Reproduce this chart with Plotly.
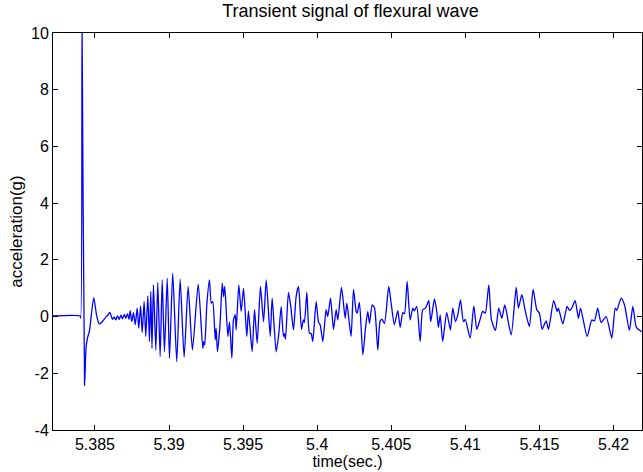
import plotly.graph_objects as go

time_s = [
    5.38217, 5.38399, 5.38404, 5.38413, 5.38430, 5.38440, 5.38450, 5.38463, 5.38492, 5.38511,
    5.38529, 5.38546, 5.38573, 5.38588, 5.38600, 5.38619, 5.38630, 5.38641, 5.38652, 5.38664,
    5.38675, 5.38686, 5.38698, 5.38708, 5.38720, 5.38730, 5.38738, 5.38749, 5.38760, 5.38772,
    5.38785, 5.38796, 5.38808, 5.38819, 5.38832, 5.38843, 5.38857, 5.38868, 5.38877, 5.38885,
    5.38895, 5.38911, 5.38924, 5.38940, 5.38954, 5.38969, 5.38988, 5.39003, 5.39025, 5.39052,
    5.39075, 5.39102, 5.39129, 5.39158, 5.39197, 5.39228, 5.39235, 5.39241, 5.39255, 5.39273,
    5.39285, 5.39295, 5.39312, 5.39318, 5.39327, 5.39344, 5.39359, 5.39368, 5.39376, 5.39397,
    5.39408, 5.39424, 5.39435, 5.39447, 5.39453, 5.39471, 5.39487, 5.39503, 5.39525, 5.39536,
    5.39561, 5.39577, 5.39595, 5.39617, 5.39638, 5.39656, 5.39683, 5.39696, 5.39723, 5.39741,
    5.39757, 5.39772, 5.39779, 5.39786, 5.39806, 5.39822, 5.39840, 5.39858, 5.39874, 5.39894,
    5.39907, 5.39914, 5.39930, 5.39948, 5.39959, 5.39970, 5.39993, 5.40009, 5.40020, 5.40038,
    5.40060, 5.40071, 5.40090, 5.40110, 5.40128, 5.40139, 5.40164, 5.40189, 5.40200, 5.40218,
    5.40229, 5.40245, 5.40263, 5.40270, 5.40285, 5.40308, 5.40326, 5.40341, 5.40353, 5.40371,
    5.40387, 5.40409, 5.40425, 5.40438, 5.40454, 5.40483, 5.40499, 5.40521, 5.40544, 5.40560,
    5.40578, 5.40589, 5.40607, 5.40627, 5.40645, 5.40656, 5.40672, 5.40695, 5.40712, 5.40731,
    5.40753, 5.40766, 5.40791, 5.40807, 5.40818, 5.40830, 5.40847, 5.40874, 5.40899, 5.40915,
    5.40933, 5.40949, 5.40967, 5.40987, 5.40999, 5.41032, 5.41057, 5.41077, 5.41100, 5.41117,
    5.41134, 5.41158, 5.41176, 5.41203, 5.41225, 5.41246, 5.41266, 5.41309, 5.41343, 5.41358,
    5.41381, 5.41405, 5.41432, 5.41457, 5.41482, 5.41500, 5.41518, 5.41545, 5.41561, 5.41596,
    5.41619, 5.41628, 5.41657, 5.41687, 5.41702, 5.41718, 5.41741, 5.41763, 5.41777, 5.41822,
    5.41853, 5.41871, 5.41893, 5.41916, 5.41950, 5.41988, 5.42011, 5.42022, 5.42051, 5.42074,
    5.42107, 5.42130, 5.42154, 5.42190,
]

acceleration_g = [
    0.02, 0.02, -0.05, 10.4, -2.43, -1.10, -0.75, -0.50, 0.67, 0.05,
    -0.26, -0.20, -0.02, 0.06, 0.15, -0.10, -0.01, -0.12, 0.02, -0.10,
    0.05, -0.08, 0.08, -0.06, 0.10, -0.10, 0.21, -0.18, 0.14, -0.29,
    0.30, -0.41, 0.38, -0.56, 0.53, -0.70, 0.73, -0.88, 0.89, -1.12,
    1.12, -1.18, 1.20, -1.41, 1.29, -1.24, 1.35, -1.47, 1.53, -1.59,
    1.32, -1.43, 1.06, -1.18, 1.14, -1.12, -0.88, -1.00, 0.41, 1.29,
    0.47, 0.53, -0.82, -0.41, -1.24, -0.30, 1.18, 0.70, 1.06, -0.70,
    -0.20, -1.47, -0.12, 0.06, -0.47, 1.12, 0.18, 1.00, -0.70, 0.20,
    -1.24, 0.24, -0.94, 1.06, -0.18, 1.29, -0.70, 0.65, -1.24, -0.59,
    0.35, -0.70, -0.60, -0.80, 0.85, 0.35, -0.47, 0.71, 1.06, -0.45,
    -0.12, -0.20, 0.85, -0.59, -0.60, -0.88, 0.53, -0.20, -0.29, -0.88,
    0.24, 0.00, 0.65, -0.45, 0.24, -0.12, 1.03, -0.06, 0.47, -0.29,
    -0.70, 0.96, 0.18, 0.12, 0.50, -1.35, -0.41, 0.18, -0.24, 0.41,
    0.30, -1.18, -0.15, -0.10, -0.24, 1.06, 0.47, -0.29, 0.21, -0.38,
    0.14, 0.10, 1.24, -0.12, 0.30, 0.20, 0.36, -0.88, 0.24, 0.30,
    0.56, -0.18, 0.62, 0.18, -0.38, 0.06, -0.88, 0.14, -0.47, 0.30,
    -0.18, 0.06, 0.59, -0.18, -0.10, -0.76, 0.38, -0.45, -0.09, 0.18,
    0.12, 1.12, -0.12, -0.49, 0.30, -0.06, 0.41, -0.65, 1.03, 0.30,
    0.77, 0.18, -0.35, 0.96, 0.24, 0.12, -0.45, -0.15, -0.45, 0.56,
    0.18, 0.30, -0.26, 0.36, 0.22, 0.30, 0.56, -0.06, 0.30, -0.70,
    -0.12, -0.15, 0.30, -0.21, 0.00, -0.76, 0.30, 0.22, 0.65, 0.41,
    -0.49, 0.36, -0.38, -0.53,
]

x_tick_vals = [5.385, 5.39, 5.395, 5.4, 5.405, 5.41, 5.415, 5.42]
x_tick_text = ["5.385", "5.39", "5.395", "5.4", "5.405", "5.41", "5.415", "5.42"]
y_tick_vals = [-4, -2, 0, 2, 4, 6, 8, 10]
y_tick_text = ["-4", "-2", "0", "2", "4", "6", "8", "10"]

FONT = "Arial, Liberation Sans, sans-serif"

fig = go.Figure()
fig.add_trace(go.Scatter(
    x=time_s, y=acceleration_g, mode="lines",
    line=dict(color="#0000ff", width=1.3, shape="spline", smoothing=0.6),
    showlegend=False, hoverinfo="skip",
))

axis_common = dict(
    showline=True, linecolor="black", linewidth=1, mirror="ticks",
    ticks="inside", ticklen=5, tickcolor="black", tickwidth=1,
    showgrid=False, zeroline=False,
    tickfont=dict(family=FONT, size=16, color="black"),
)

fig.update_layout(
    width=643, height=472,
    margin=dict(l=53, r=1, t=33, b=42),
    paper_bgcolor="white", plot_bgcolor="white",
    title=dict(text="Transient signal of flexural wave", x=0.545, xanchor="center",
               y=0.99, yanchor="top",
               font=dict(family=FONT, size=18, color="black")),
    xaxis=dict(range=[5.38217, 5.42192], tickvals=x_tick_vals, ticktext=x_tick_text,
               title=dict(text="time(sec.)", standoff=3,
                          font=dict(family=FONT, size=16, color="black")),
               **axis_common),
    yaxis=dict(range=[-4, 10], tickvals=y_tick_vals, ticktext=y_tick_text,
               title=dict(text="acceleration(g)", standoff=4,
                          font=dict(family=FONT, size=17, color="black")),
               **axis_common),
)

fig.write_html("out.html")
